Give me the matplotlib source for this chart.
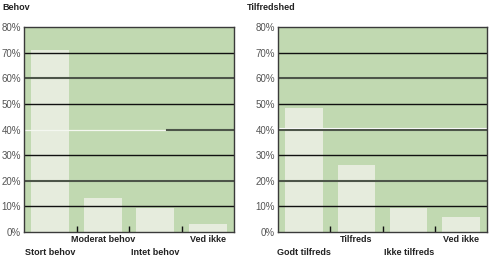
import matplotlib.pyplot as plt
from matplotlib.transforms import blended_transform_factory

# ---------------- DATA ----------------
behov_labels = ["Stort behov", "Moderat behov", "Intet behov", "Ved ikke"]
behov_values = [71, 13.3, 9.5, 3]

tilfreds_labels = ["Godt tilfreds", "Tilfreds", "Ikke tilfreds", "Ved ikke"]
tilfreds_values = [48.3, 26.3, 9.5, 6]

y_ticks = [0, 10, 20, 30, 40, 50, 60, 70, 80]

# ---------------- STYLE ----------------
plt.rcParams["font.family"] = ["Liberation Sans", "DejaVu Sans"]
BG = "#c1d9b1"
BAR = "#e6ecdd"
SPINE = "#3a3a3a"

fig = plt.figure(figsize=(4.9, 2.59), dpi=100)


def panel(rect, title, labels, values, title_x):
    ax = fig.add_axes(rect)
    ax.set_facecolor(BG)
    x = range(len(values))
    ax.bar(x, values, width=0.72, color=BAR, zorder=2)
    ax.set_xlim(-0.5, len(values) - 0.5)
    ax.set_ylim(0, 80)

    # grid lines drawn over bars
    for v in (10, 30, 50, 70):
        ax.axhline(v, color="#111111", lw=1.0, zorder=3)
    for v in (20, 60):
        ax.axhline(v + 0.45, color="white", lw=0.8, zorder=3)
        ax.axhline(v, color="#4d5549", lw=1.5, zorder=3)
    if title == "Behov":
        ax.axhline(40, xmin=0, xmax=0.68, color="#f4f7f0", lw=0.9, zorder=3)
        ax.axhline(40, xmin=0.68, xmax=1, color="#4d5549", lw=1.5, zorder=3)
    else:
        ax.axhline(40 + 0.45, color="white", lw=0.8, zorder=3)
        ax.axhline(40, color="#4d5549", lw=1.5, zorder=3)

    ax.set_yticks(y_ticks)
    ax.set_yticklabels([f"{t}%" for t in y_ticks], fontsize=7, color="#555555")
    ax.tick_params(axis="y", length=0, pad=2)

    ax.set_xticks([i + 0.5 for i in range(len(values) - 1)])
    ax.set_xticklabels([])
    ax.tick_params(axis="x", direction="in", length=4, width=1, color="#111111")

    for s in ax.spines.values():
        s.set_color(SPINE)
        s.set_linewidth(1)
        s.set_zorder(4)

    # staggered category labels
    tr = blended_transform_factory(ax.transData, ax.transAxes)
    for i, lab in enumerate(labels):
        y = -0.037 if i % 2 else -0.10
        ax.text(i, y, lab, transform=tr, ha="center", va="center",
                fontsize=6.5, fontweight="bold", color="#222222")

    fig.text(title_x, 1 - 8 / 259, title, ha="left", va="center",
             fontsize=6.5, fontweight="bold", color="#222222")
    return ax


panel([24 / 490, 27 / 259, 210 / 490, 205 / 259], "Behov",
      behov_labels, behov_values, 2 / 490)
panel([278 / 490, 27 / 259, 209 / 490, 205 / 259], "Tilfredshed",
      tilfreds_labels, tilfreds_values, 247 / 490)

fig.savefig("out.png", dpi=100)
